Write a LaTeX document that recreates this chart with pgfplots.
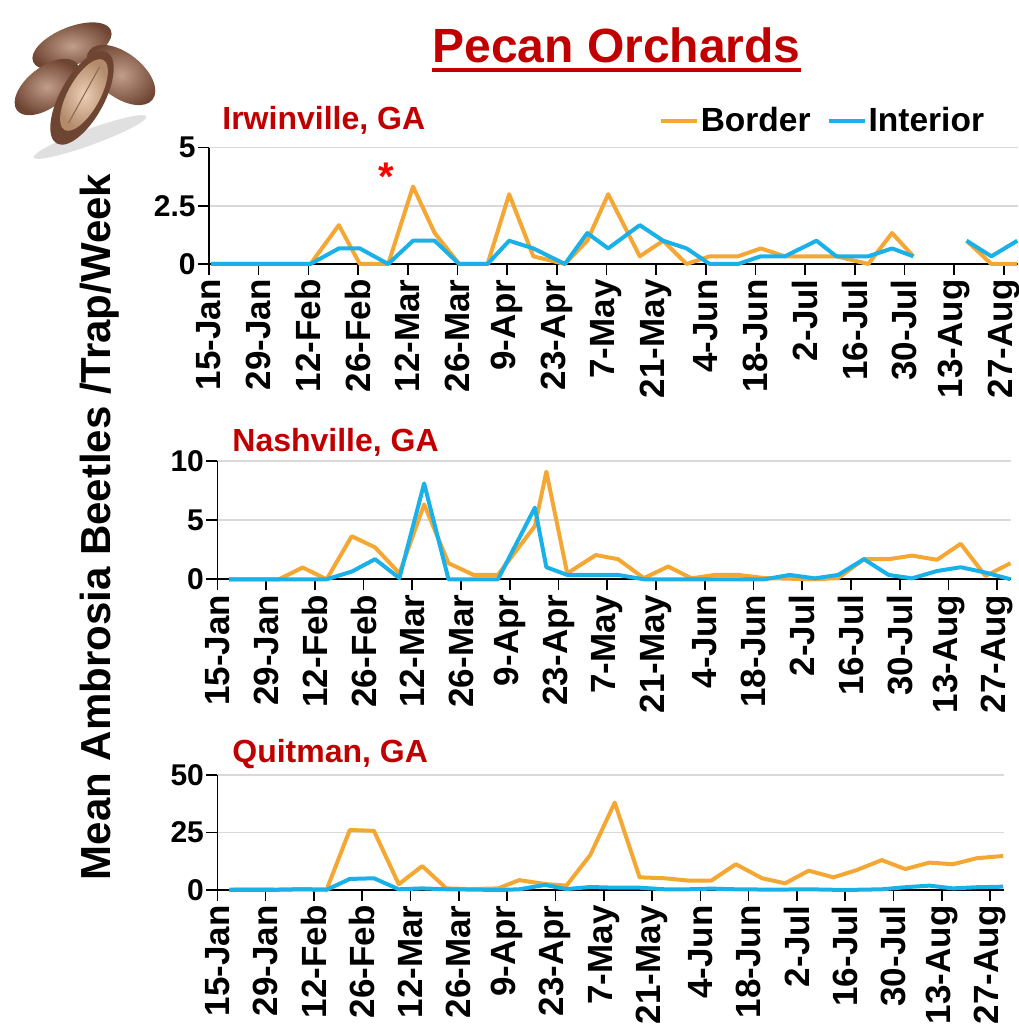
\documentclass[border=0pt]{standalone}
\usepackage{fontspec}
\setmainfont{Liberation Sans}
\usepackage{pgfplots}
\pgfplotsset{compat=1.18}
\definecolor{bord}{HTML}{F5A733}
\definecolor{inte}{HTML}{1AB0E8}
\definecolor{dred}{HTML}{C00000}
\definecolor{gridc}{HTML}{D9D9D9}
\definecolor{shell}{HTML}{A87458}
\definecolor{shelldark}{HTML}{6E4532}
\definecolor{kernel}{HTML}{E0AE86}

\pgfplotsset{
 panel/.style={
  scale only axis,
  xmin=0, xmax=228, ymin=0,
  clip=false,
  axis x line*=bottom, axis y line*=left,
  axis line style={black, line width=0.8pt, -},
  tick style={black, line width=0.8pt},
  tick align=outside,
  major tick length=5.5pt,
  xtick={0,14,...,224},
  xticklabels={15-Jan,29-Jan,12-Feb,26-Feb,12-Mar,26-Mar,9-Apr,23-Apr,7-May,21-May,4-Jun,18-Jun,2-Jul,16-Jul,30-Jul,13-Aug,27-Aug},
  x tick label style={rotate=90, anchor=east, font=\fontsize{17.5}{18}\selectfont\bfseries, inner sep=2pt},
  y tick label style={font=\fontsize{15}{16}\selectfont\bfseries, inner sep=1pt},
  ymajorgrids, grid style={gridc, line width=0.8pt},
  unbounded coords=jump,
  every axis plot/.append style={line width=2pt, line join=round, mark=none},
 }
}

\begin{document}
\begin{tikzpicture}
\useasboundingbox (0,0) rectangle (509pt,516.5pt);

% pecan icon (decoration)
\begin{scope}
\fill[black!12, rotate around={20:(45pt,448pt)}] (45pt,448pt) ellipse (30pt and 4pt);
\shade[inner color=shell!70!white, outer color=shelldark, rotate around={22:(36pt,493.5pt)}] (36pt,493.5pt) ellipse (21pt and 9.5pt);
\shade[inner color=shell!70!white, outer color=shelldark, rotate around={38:(23.5pt,473pt)}] (23.5pt,473pt) ellipse (19pt and 10pt);
\shade[inner color=shell!70!white, outer color=shelldark, rotate around={-38:(60.5pt,479pt)}] (60.5pt,479pt) ellipse (20pt and 11pt);
\fill[shelldark, rotate around={61:(41pt,467.5pt)}] (41pt,467.5pt) ellipse (26pt and 11pt);
\shade[inner color=kernel!60!white, outer color=kernel!80!black, rotate around={61:(42pt,469pt)}] (42pt,469pt) ellipse (20pt and 8pt);
\draw[kernel!60!black, line width=0.5pt, rotate around={61:(42pt,469pt)}] (26pt,469pt) -- (58pt,469pt);
\end{scope}

% title
\node[anchor=base west, inner sep=0pt, text=dred, font=\fontsize{24}{24}\selectfont\bfseries] (T) at (216pt,485pt) {Pecan Orchards};
\draw[dred, line width=2pt] ([yshift=-3.5pt]T.base west) -- ([yshift=-3.5pt]T.base east);

% y label
\node[rotate=90, font=\fontsize{21}{21}\selectfont\bfseries] at (50pt,253pt) {Mean Ambrosia Beetles /Trap/Week};

% subtitles
\node[anchor=base west, inner sep=0pt, text=dred, font=\fontsize{16}{16}\selectfont\bfseries] at (111pt,451.5pt) {Irwinville, GA};
\node[anchor=base west, inner sep=0pt, text=dred, font=\fontsize{16}{16}\selectfont\bfseries] at (116pt,290.5pt) {Nashville, GA};
\node[anchor=base west, inner sep=0pt, text=dred, font=\fontsize{16}{16}\selectfont\bfseries] at (116pt,135pt) {Quitman, GA};

% Panel 1: Irwinville
\begin{axis}[panel,
  at={(104.5pt,384.5pt)}, anchor=south west,
  width=404.5pt, height=58.15pt,
  ymax=5, ytick={0,2.5,5}, yticklabels={0,2.5,5},
  legend columns=2,
  legend style={draw=none, fill=none, at={(0.5555,1.232)}, anchor=west,
    font=\fontsize{16.75}{18}\selectfont\bfseries, inner sep=0pt,
    nodes={inner sep=1pt},
    /tikz/every even column/.append style={column sep=7pt}},
  legend image code/.code={\draw[#1, line width=2pt] (0pt,0pt) -- (18pt,0pt);},
]
\addplot[bord] coordinates {(0.6,0)(7.6,0)(14.6,0)(21.6,0)(28.6,0)(36.6,1.67)(42.5,0)(50.5,0)(57.5,3.33)(63.6,1.33)(70.5,0)(78.5,0)(84.6,3.0)(91.4,0.33)(100.3,0)(106.6,1.0)(112.5,3.0)(121.4,0.33)(128,1.0)(134.6,0)(141.1,0.33)(149.1,0.33)(155.5,0.67)(162.3,0.33)(171.2,0.33)(176.8,0.33)(185.8,0)(192.5,1.33)(198.5,0.33)(206,nan)(213.5,1.0)(220.5,0)(227.8,0)};
\addlegendentry{Border}
\addplot[inte] coordinates {(0.6,0)(7.6,0)(14.6,0)(21.6,0)(28.6,0)(36.6,0.67)(42.5,0.67)(50.5,0)(57.5,1.0)(63.6,1.0)(70.5,0)(78.5,0)(84.6,1.0)(91.4,0.67)(100.3,0)(106.6,1.33)(112.5,0.67)(121.4,1.67)(128,1.0)(134.6,0.67)(141.1,0)(149.1,0)(155.5,0.33)(162.3,0.33)(171.2,1.0)(176.8,0.33)(185.8,0.33)(192.5,0.67)(198.5,0.33)(206,nan)(213.5,1.0)(220.5,0.33)(227.8,1.0)};
\addlegendentry{Interior}
\node[anchor=base, inner sep=0pt, text=red, font=\fontsize{20}{20}\selectfont\bfseries] at (axis cs:50.1,3.18) {*};
\end{axis}

% Panel 2: Nashville
\begin{axis}[panel,
  at={(108.65pt,226.85pt)}, anchor=south west,
  width=396.95pt, height=59.15pt,
  ymax=10, ytick={0,5,10}, yticklabels={0,5,10},
]
\addplot[bord] coordinates {(3.4,0)(10.5,0)(17.7,0)(24.5,1.0)(31.4,0)(38.6,3.64)(45.3,2.7)(52.3,0.5)(59.4,6.33)(66.4,1.36)(73.6,0.37)(80.6,0.37)(91.2,4.5)(94.5,9.1)(100.5,0.5)(108.7,2.05)(115.1,1.7)(122.5,0.1)(129.5,1.08)(136.2,0.08)(142.9,0.37)(149.5,0.37)(157.2,0.1)(164.4,0.05)(171.6,0)(178.3,0.1)(185.7,1.7)(192.8,1.7)(199.5,2.0)(206.7,1.65)(213.5,3.0)(220.6,0.28)(227.8,1.36)};
\addplot[inte] coordinates {(3.4,0)(10.5,0)(17.7,0)(24.5,0)(31.4,0)(38.6,0.65)(45.3,1.7)(52.3,0.1)(59.4,8.1)(66.4,0)(73.6,0)(80.6,0)(91.2,6.05)(94.5,1.02)(100.5,0.37)(108.7,0.37)(115.1,0.37)(122.5,0)(129.5,0)(136.2,0)(142.9,0)(149.5,0)(157.2,0)(164.4,0.37)(171.6,0.08)(178.3,0.37)(185.7,1.7)(192.8,0.37)(199.5,0.08)(206.7,0.7)(213.5,1.02)(220.6,0.57)(227.8,0)};
\end{axis}

% Panel 3: Quitman
\begin{axis}[panel,
  at={(108.65pt,71.5pt)}, anchor=south west,
  width=393.3pt, height=57.5pt,
  ymax=50, ytick={0,25,50}, yticklabels={0,25,50},
]
\addplot[bord] coordinates {(3.5,0.2)(10.4,0.3)(17.5,0.2)(24.5,0.4)(31.7,0.2)(38.4,26.1)(45.4,25.7)(52.6,2.5)(59.4,10.4)(66.4,0.7)(73.2,0.4)(81.4,0.7)(87.5,4.3)(95,2.6)(101.2,1.9)(108.1,15.2)(115.2,38.0)(122.4,5.5)(129.7,5.1)(136.4,4.1)(143.2,4.1)(150.3,11.2)(157.9,5.1)(164.6,2.9)(171.4,8.4)(178.6,5.5)(185.4,8.7)(192.6,13.0)(199.4,9.1)(206.4,11.9)(213.2,11.2)(220.1,13.8)(227.8,14.8)};
\addplot[inte] coordinates {(3.5,0)(10.4,0.1)(17.5,0.1)(24.5,0.3)(31.7,0.1)(38.4,4.8)(45.4,5.1)(52.6,0.3)(59.4,0.7)(66.4,0.3)(73.2,0.2)(81.4,0)(87.5,0.3)(95,2.2)(101.2,0.4)(108.1,1.3)(115.2,1.0)(122.4,1.0)(129.7,0.3)(136.4,0.3)(143.2,0.6)(150.3,0.3)(157.9,0.2)(164.6,0.2)(171.4,0.3)(178.6,0.1)(185.4,0.1)(192.6,0.3)(199.4,1.2)(206.4,1.9)(213.2,0.7)(220.1,1.2)(227.8,1.45)};
\end{axis}
\end{tikzpicture}
\end{document}
